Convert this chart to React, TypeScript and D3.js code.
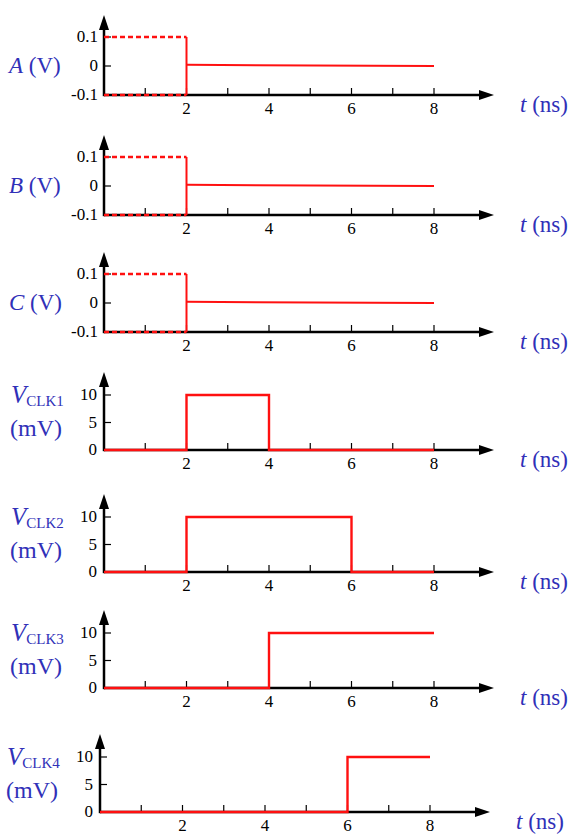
import React from "react";
import * as d3 from "d3";

const width = 570;
const height = 835;

// time axis ticks (ns)
const minorTicks = [1, 2, 3, 4, 5, 6, 7, 8];
const labelTicks = [2, 4, 6, 8];

// input signals A, B, C (V)
const inputNames = ["A", "B", "C"];
const inputTicks = [0.1, 0, -0.1];
const dashTimes = [0, 2];
const dashLevels = [0.1, -0.1];
const stepTimes = [2, 2];
const stepValues = [-0.1, 0.1];
const decayTimes = [2, 8];
const decayValues = [0.004, 0];

// clock signals (mV)
const clkNames = ["CLK1", "CLK2", "CLK3", "CLK4"];
const clkTicks = [10, 5, 0];
const clkTimes = [0, 2, 4, 6, 8];
const clk1 = [0, 10, 0, 0, 0];
const clk2 = [0, 10, 10, 0, 0];
const clk3 = [0, 0, 10, 10, 10];
const clk4 = [0, 0, 0, 10, 10];
const clkSeries = [clk1, clk2, clk3, clk4];

// panel baselines and small horizontal shifts (layout)
const baselines = [95, 215, 332, 450, 572, 688, 812];
const shifts = [0, 0, 0, 0, 0, 0, -4];

const blue = "#3030b8";
const red = "#ff1010";
const serif = "'Liberation Serif', 'Times New Roman', serif";

const x = d3.scaleLinear().domain([0, 8]).range([104, 434]);
const axisLeft = x(0);
const axisRight = 494;

type Pt = [number, number];

function Axes({ y0, top }: { y0: number; top: number }) {
  return (
    <g>
      <line x1={axisLeft} x2={axisRight - 10} y1={y0} y2={y0} stroke="#000" strokeWidth={2.5} />
      <path d={`M${axisRight},${y0} L${axisRight - 15},${y0 - 5} L${axisRight - 15},${y0 + 5} Z`} fill="#000" />
      <line x1={axisLeft} x2={axisLeft} y1={y0 + 1.2} y2={top + 10} stroke="#000" strokeWidth={2.5} />
      <path d={`M${axisLeft},${top} L${axisLeft - 5},${top + 15} L${axisLeft + 5},${top + 15} Z`} fill="#000" />
      {minorTicks.map(t => (
        <line key={t} x1={x(t)} x2={x(t)} y1={y0} y2={y0 - 7} stroke="#000" strokeWidth={1.2} />
      ))}
      {labelTicks.map(t => (
        <text key={t} x={x(t)} y={y0 + 19} fontSize={17} fontFamily={serif} textAnchor="middle">
          {t}
        </text>
      ))}
      <text x={520} y={y0 + 17} fontSize={23} fontFamily={serif} fill={blue}>
        <tspan fontStyle="italic">t</tspan> (ns)
      </text>
    </g>
  );
}

function InputPanel({ name, y0 }: { name: string; y0: number }) {
  const y = d3.scaleLinear().domain([-0.1, 0.1]).range([y0, y0 - 58]);
  const line = d3.line<Pt>().x(d => x(d[0])).y(d => y(d[1]));
  return (
    <g>
      <Axes y0={y0} top={y0 - 80} />
      {inputTicks.map(v => (
        <g key={v}>
          <line x1={axisLeft} x2={axisLeft + 7} y1={y(v)} y2={y(v)} stroke="#000" strokeWidth={1.2} />
          <text x={98} y={y(v) + 5} fontSize={17} fontFamily={serif} textAnchor="end">
            {v === 0 ? "0" : String(v)}
          </text>
        </g>
      ))}
      {dashLevels.map(v => (
        <path
          key={v}
          d={line(dashTimes.map(t => [t, v] as Pt)) || ""}
          stroke={red}
          strokeWidth={2.6}
          strokeDasharray="5,3"
          fill="none"
        />
      ))}
      <path d={line(stepTimes.map((t, i) => [t, stepValues[i]] as Pt)) || ""} stroke={red} strokeWidth={2} fill="none" />
      <path d={line(decayTimes.map((t, i) => [t, decayValues[i]] as Pt)) || ""} stroke={red} strokeWidth={2} fill="none" />
      <text x={9} y={y(0) + 7} fontSize={23} fontFamily={serif} fill={blue}>
        <tspan fontStyle="italic">{name}</tspan> (V)
      </text>
    </g>
  );
}

function ClockPanel({ name, values, y0 }: { name: string; values: number[]; y0: number }) {
  const y = d3.scaleLinear().domain([0, 10]).range([y0, y0 - 55]);
  const line = d3
    .line<Pt>()
    .x(d => x(d[0]))
    .y(d => y(d[1]))
    .curve(d3.curveStepAfter);
  return (
    <g>
      <Axes y0={y0} top={y0 - 78} />
      {clkTicks.map(v => (
        <g key={v}>
          {v > 0 && <line x1={axisLeft} x2={axisLeft + 7} y1={y(v)} y2={y(v)} stroke="#000" strokeWidth={1.2} />}
          <text x={97} y={y(v) + 5} fontSize={17} fontFamily={serif} textAnchor="end">
            {v}
          </text>
        </g>
      ))}
      <path d={line(clkTimes.map((t, i) => [t, values[i]] as Pt)) || ""} stroke={red} strokeWidth={2.4} fill="none" />
      <text x={11} y={y(10) + 8} fontSize={25} fontFamily={serif} fill={blue}>
        <tspan fontStyle="italic">V</tspan>
        <tspan fontSize={15} dy={3}>{name}</tspan>
      </text>
      <text x={10} y={y(5) + 13} fontSize={24} fontFamily={serif} fill={blue}>
        (mV)
      </text>
    </g>
  );
}

export default function App() {
  return (
    <svg width={width} height={height} style={{ position: "absolute", left: 0, top: 0, background: "#fff" }}>
      {inputNames.map((n, i) => (
        <g key={n} transform={`translate(${shifts[i]},0)`}>
          <InputPanel name={n} y0={baselines[i]} />
        </g>
      ))}
      {clkNames.map((n, i) => (
        <g key={n} transform={`translate(${shifts[i + 3]},0)`}>
          <ClockPanel name={n} values={clkSeries[i]} y0={baselines[i + 3]} />
        </g>
      ))}
    </svg>
  );
}
